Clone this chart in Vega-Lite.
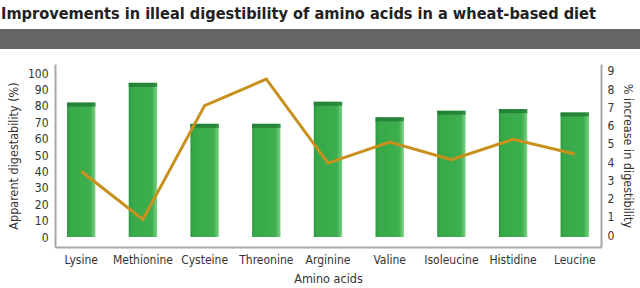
{
  "$schema": "https://vega.github.io/schema/vega-lite/v6.json",
  "padding": {"top": 5, "left": 0, "right": 0, "bottom": 0},
  "background": "white",
  "title": {
    "text": "Improvements in illeal digestibility of amino acids in a wheat-based diet",
    "anchor": "start",
    "font": "Liberation Sans Narrow, DejaVu Sans Condensed, Liberation Sans",
    "fontSize": 16.2,
    "fontWeight": "bold",
    "color": "#222222",
    "dx": 1,
    "offset": 7
  },
  "config": {
    "view": {"stroke": null},
    "font": "Liberation Sans Narrow, DejaVu Sans Condensed, Liberation Sans",
    "axis": {
      "domainColor": "#a8a8a8",
      "domainWidth": 2,
      "ticks": false,
      "grid": false,
      "labelFontSize": 12,
      "labelColor": "#333333",
      "titleFontSize": 12.5,
      "titleFontWeight": "normal",
      "titleColor": "#333333"
    }
  },
  "data": {
    "values": [
      {"acid": "Lysine", "digest": 82, "increase": 3.5},
      {"acid": "Methionine", "digest": 94, "increase": 0.86},
      {"acid": "Cysteine", "digest": 69, "increase": 7.1},
      {"acid": "Threonine", "digest": 69, "increase": 8.55},
      {"acid": "Arginine", "digest": 82.5, "increase": 3.95},
      {"acid": "Valine", "digest": 73, "increase": 5.1},
      {"acid": "Isoleucine", "digest": 77, "increase": 4.13},
      {"acid": "Histidine", "digest": 78, "increase": 5.25},
      {"acid": "Leucine", "digest": 76, "increase": 4.45}
    ]
  },
  "spacing": 15,
  "vconcat": [
    {
      "width": 640,
      "height": 20,
      "mark": {"type": "rect", "color": "#666565"},
      "encoding": {}
    },
    {
      "spacing": 0,
      "hconcat": [
        {
          "width": 7,
          "height": 183,
          "mark": {"type": "rect", "opacity": 0},
          "encoding": {}
        },
        {
          "width": 546,
          "height": 183,
          "layer": [
            {
              "layer": [
                {
                  "mark": {
                    "type": "bar",
                    "color": {
                      "gradient": "linear",
                      "x1": 0, "x2": 1, "y1": 0, "y2": 0,
                      "stops": [
                        {"offset": 0, "color": "#2c9a40"},
                        {"offset": 0.12, "color": "#38a949"},
                        {"offset": 0.82, "color": "#3eaf4e"},
                        {"offset": 1, "color": "#7ed386"}
                      ]
                    }
                  },
                  "encoding": {
                    "x": {
                      "field": "acid", "type": "nominal", "sort": null,
                      "scale": {"paddingInner": 0.54, "paddingOuter": 0.195},
                      "title": "Amino acids",
                      "axis": {"labelAngle": 0, "labelPadding": 7, "titlePadding": 7}
                    },
                    "y": {
                      "field": "digest", "type": "quantitative",
                      "scale": {"domain": [-6.06, 105.5], "nice": false, "zero": false},
                      "title": "Apparent digestability (%)",
                      "axis": {"orient": "left", "values": [0,10,20,30,40,50,60,70,80,90,100], "labelOverlap": false, "labelPadding": 7, "titlePadding": 7}
                    }
                  }
                },
                {
                  "mark": {"type": "tick", "color": "#1c7431", "thickness": 4, "size": 28.5, "yOffset": 2},
                  "encoding": {
                    "x": {"field": "acid", "type": "nominal", "sort": null, "title": "Amino acids",
                      "axis": {"labelAngle": 0, "labelPadding": 7, "titlePadding": 7}},
                    "y": {
                      "field": "digest", "type": "quantitative",
                      "title": "Apparent digestability (%)",
                      "axis": {"orient": "left", "values": [0,10,20,30,40,50,60,70,80,90,100], "labelOverlap": false, "labelPadding": 7, "titlePadding": 7}
                    }
                  }
                }
              ]
            },
            {
              "mark": {"type": "line", "color": "#c8901c", "strokeWidth": 3},
              "encoding": {
                "x": {"field": "acid", "type": "nominal", "sort": null, "title": "Amino acids",
                  "axis": {"labelAngle": 0, "labelPadding": 7, "titlePadding": 7}},
                "y": {
                  "field": "increase", "type": "quantitative",
                  "scale": {"domain": [-0.65, 9.38], "nice": false, "zero": false},
                  "title": "% increase in digestibility",
                  "axis": {"orient": "right", "values": [0,1,2,3,4,5,6,7,8,9], "labelOverlap": false, "labelPadding": 6, "titlePadding": 7}
                }
              }
            }
          ],
          "resolve": {"scale": {"y": "independent"}}
        }
      ]
    }
  ]
}
